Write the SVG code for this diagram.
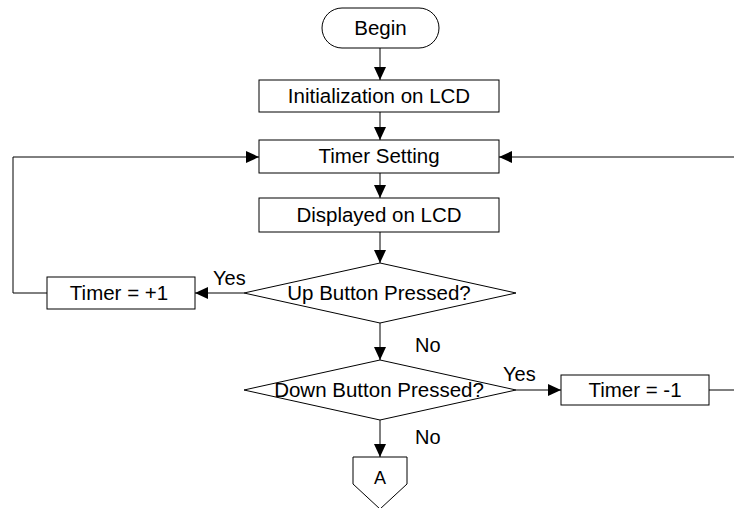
<svg xmlns="http://www.w3.org/2000/svg" width="734" height="508" viewBox="0 0 734 508">
<defs>
<style>
.s{fill:#fff;stroke:#000;stroke-width:1}
.t{font-family:"Liberation Sans",Arial,sans-serif;font-size:20.5px;fill:#000;text-anchor:middle}
.l{font-family:"Liberation Sans",Arial,sans-serif;font-size:20px;fill:#000}
.c{fill:none;stroke:#000;stroke-width:1}
</style>
<marker id="ah" markerUnits="userSpaceOnUse" markerWidth="13" markerHeight="12" refX="13" refY="6" orient="auto">
<path d="M0,0 L13,6 L0,12 Z" fill="#000"/>
</marker>
</defs>
<rect width="734" height="508" fill="#fff"/>
<g id="connectors">
<line class="c" x1="380" y1="48" x2="380" y2="80" marker-end="url(#ah)"/>
<line class="c" x1="380" y1="112" x2="380" y2="140" marker-end="url(#ah)"/>
<line class="c" x1="380" y1="173" x2="380" y2="198" marker-end="url(#ah)"/>
<line class="c" x1="380" y1="232" x2="380" y2="263" marker-end="url(#ah)"/>
<line class="c" x1="380" y1="323" x2="380" y2="360" marker-end="url(#ah)"/>
<line class="c" x1="380" y1="420" x2="380" y2="457" marker-end="url(#ah)"/>
<line class="c" x1="244" y1="293" x2="195" y2="293" marker-end="url(#ah)"/>
<polyline class="c" points="47,293 13,293 13,157 259,157" marker-end="url(#ah)"/>
<line class="c" x1="516" y1="390" x2="561" y2="390" marker-end="url(#ah)"/>
<line class="c" x1="709" y1="390" x2="734" y2="390"/>
<line class="c" x1="734" y1="157" x2="499" y2="157" marker-end="url(#ah)"/>
<text class="l" x="213" y="285">Yes</text>
<text class="l" x="415" y="352">No</text>
<text class="l" x="503" y="381">Yes</text>
<text class="l" x="415" y="444">No</text>
</g>
<g id="begin">
<rect class="s" x="322" y="8" width="117" height="40" rx="20" ry="20"/>
<text class="t" x="380.5" y="35">Begin</text>
</g>
<g id="init">
<rect class="s" x="259" y="80" width="240" height="32"/>
<text class="t" x="379" y="103">Initialization on LCD</text>
</g>
<g id="timer-setting">
<rect class="s" x="259" y="140" width="240" height="33"/>
<text class="t" x="379" y="163">Timer Setting</text>
</g>
<g id="displayed">
<rect class="s" x="259" y="198" width="240" height="34"/>
<text class="t" x="379" y="222">Displayed on LCD</text>
</g>
<g id="up-button">
<polygon class="s" points="380,263 516,293 380,323 244,293"/>
<text class="t" x="379" y="300">Up Button Pressed?</text>
</g>
<g id="timer-plus">
<rect class="s" x="47" y="277" width="148" height="32"/>
<text class="t" x="119" y="300">Timer = +1</text>
</g>
<g id="down-button">
<polygon class="s" points="380,360 516,390 380,420 244,390"/>
<text class="t" x="379" y="397">Down Button Pressed?</text>
</g>
<g id="timer-minus">
<rect class="s" x="561" y="375" width="148" height="30"/>
<text class="t" x="635" y="397">Timer = -1</text>
</g>
<g id="connector-a">
<polygon class="s" points="353,457 407,457 407,484 380,509 353,484"/>
<text class="t" x="380" y="484" style="font-size:18px">A</text>
</g>
</svg>
